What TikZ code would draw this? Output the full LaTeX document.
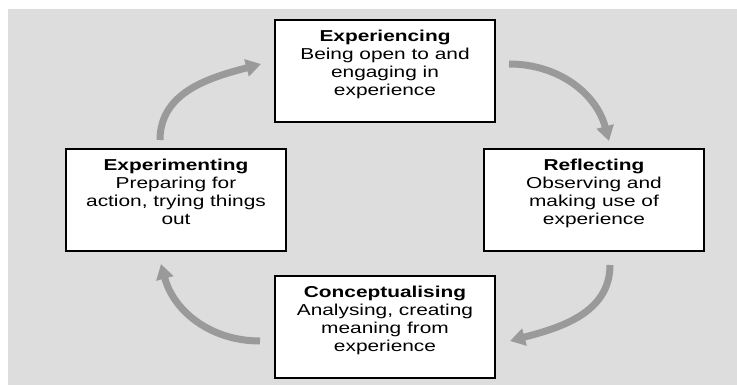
\documentclass[tikz,border=0pt]{standalone}
\usepackage{fontspec}
\setmainfont{Liberation Sans}[FakeStretch=1.32]
\usetikzlibrary{arrows.meta,positioning}
\definecolor{cyclebg}{HTML}{DDDDDD}
\definecolor{cyclearrow}{HTML}{9A9A9A}
\tikzset{
  % one stage of the cycle: white box, text hung from its top edge
  stage/.style={draw=black, fill=white, line width=1.2pt,
    minimum width=220pt, minimum height=102pt, inner sep=0pt,
    label={[anchor=north, yshift=-10pt, align=center, inner sep=0pt,
      font=\fontsize{15.8}{18}\selectfont]north:{#1}}},
  % curved grey arrow between two stages
  turn/.style={draw=cyclearrow, line width=7pt,
    -{Triangle[length=15pt,width=17pt]}},
}

\begin{document}
\begin{tikzpicture}[x=1pt, y=1pt]
            \useasboundingbox (0,0) rectangle (737,385);
            \fill[cyclebg] (8,0) rectangle (737,376);

            \node[stage={\textbf{Experiencing}\\Being open to and\\engaging in\\experience}] (experiencing) at (385,314) {};
            \node[stage={\textbf{Reflecting}\\Observing and\\making use of\\experience}] (reflecting) at (594,185) {};
            \node[stage={\textbf{Conceptualising}\\Analysing, creating\\meaning from\\experience}] (conceptualising) at (385,58) {};
            \node[stage={\textbf{Experimenting}\\Preparing for\\action, trying things\\out}] (experimenting) at (176,185) {};

            % free ends of the arrows
            \coordinate (a1s) at (160,245);
            \coordinate (a1e) at (261,321);
            \coordinate (a2s) at (509,321);
            \coordinate (a2e) at (609,244);
            \coordinate (a3s) at (610,120);
            \coordinate (a3e) at (510,44);
            \coordinate (a4s) at (260,44);
            \coordinate (a4e) at (161,121);

            \draw[turn] (a1s) to[out=90, in=195] (a1e);
            \draw[turn] (a2s) to[out=0, in=105] (a2e);
            \draw[turn] (a3s) to[out=-90, in=15] (a3e);
            \draw[turn] (a4s) to[out=180, in=-75] (a4e);
        \end{tikzpicture}
\end{document}
